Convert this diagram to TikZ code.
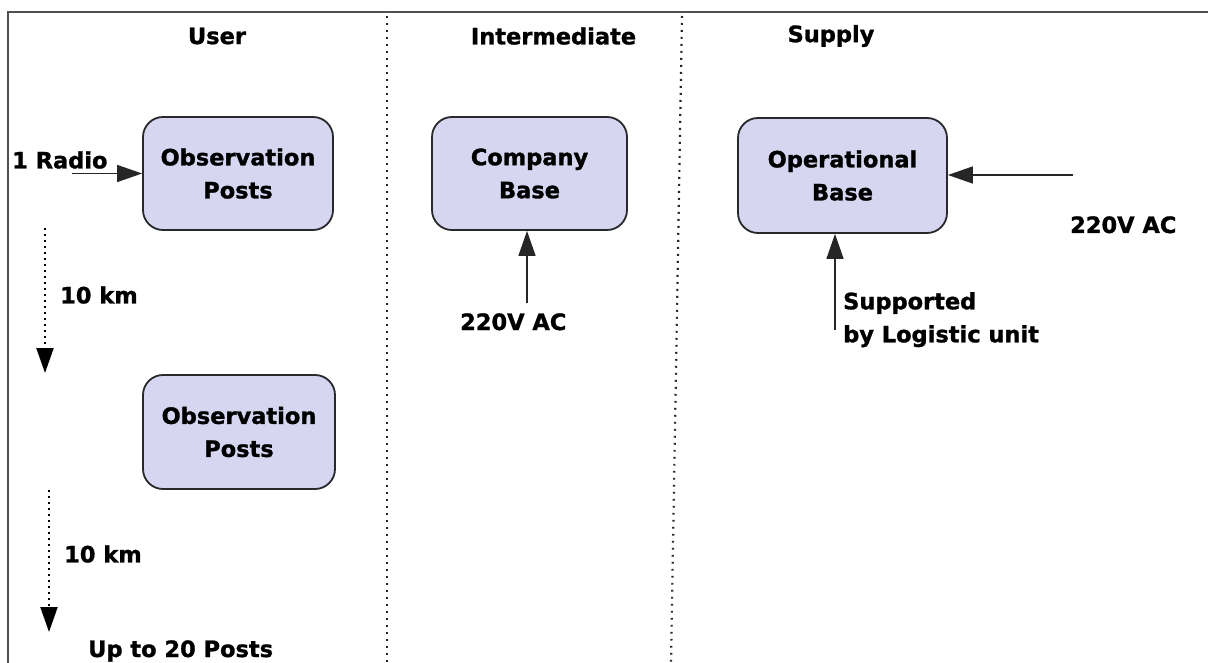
\documentclass[tikz,border=0pt]{standalone}
\usepackage{fontspec}
\setmainfont{DejaVu Sans}[BoldFeatures={FakeBold=1.2}]
\usetikzlibrary{arrows.meta}
\definecolor{boxfill}{RGB}{214,214,240}
\definecolor{boxline}{RGB}{40,40,45}
\definecolor{framecol}{RGB}{80,80,80}

\begin{document}
\begin{tikzpicture}[x=1pt,y=-1pt,
  lbl/.style={font=\fontsize{22.5}{33}\selectfont\bfseries, inner sep=0pt, align=center, text=black},
  postbox/.style={lbl, draw=boxline, line width=1.8pt, fill=boxfill, rounded corners=20pt},
  feed/.style={draw=black!85, line width=1.4pt, -{Triangle[length=25pt,width=17pt]}},
  hop/.style={draw=black, line width=2.2pt, dash pattern=on 1.8pt off 4.2pt, -{Triangle[length=25pt,width=17pt]}},
  lane/.style={draw=black!85, line width=2.2pt, dash pattern=on 1.8pt off 5.2pt}
]
\useasboundingbox (0,0) rectangle (1208,663);
\fill[white] (0,0) rectangle (1208,663);

% outer frame (top and left edges)
\draw[framecol, line width=1.3pt] (8,663) -- (8,12) -- (1208,12);

% lane separators
\draw[lane] (387,16) -- (387,663);
\draw[lane] (682,16) -- (671,663);

% lane headings
\node[lbl] (huser) at (217,36) {User};
\node[lbl] (hint)  at (553.5,36) {Intermediate};
\node[lbl] (hsup)  at (831,36) {Supply};

% boxes
\node[postbox, minimum width=190pt, minimum height=113pt] (op1) at (238,173.5) {Observation\\Posts};
\node[postbox, minimum width=192pt, minimum height=114pt] (op2) at (239,432) {Observation\\Posts};
\node[postbox, minimum width=195pt, minimum height=113pt] (cb)  at (529.5,173.5) {Company\\Base};
\node[postbox, minimum width=209pt, minimum height=115pt] (ob)  at (842.5,175.5) {Operational\\Base};

% user lane
\node[lbl, anchor=west] (radio) at (12,160) {1 Radio};
\coordinate (radioin) at (72,173.5);
\draw[feed] (radioin) -- (op1.west |- radioin);

\coordinate (hop1s) at (45,228);
\coordinate (hop1e) at (45,373);
\draw[hop] (hop1s) -- (hop1e);
\node[lbl, anchor=west] (km1) at (60,295) {10 km};

\coordinate (hop2s) at (49,490);
\coordinate (hop2e) at (49,632);
\draw[hop] (hop2s) -- (hop2e);
\node[lbl, anchor=west] (km2) at (64,554) {10 km};

\node[lbl, anchor=base west] (upto) at (88,657) {Up to 20 Posts};

% intermediate lane
\coordinate (cbin) at (527,303);
\draw[feed] (cbin) -- (cbin |- cb.south);
\node[lbl, anchor=base west] (cbac) at (460,330) {220V AC};

% supply lane
\coordinate (acin) at (1073,175);
\draw[feed] (acin) -- (acin -| ob.east);
\node[lbl, anchor=base west] (obac) at (1070,233) {220V AC};

\coordinate (login) at (835,330);
\draw[feed] (login) -- (login |- ob.south);
\node[lbl, anchor=north west, align=left] (logi) at (843,292) {Supported\\by Logistic unit};
\end{tikzpicture}
\end{document}
